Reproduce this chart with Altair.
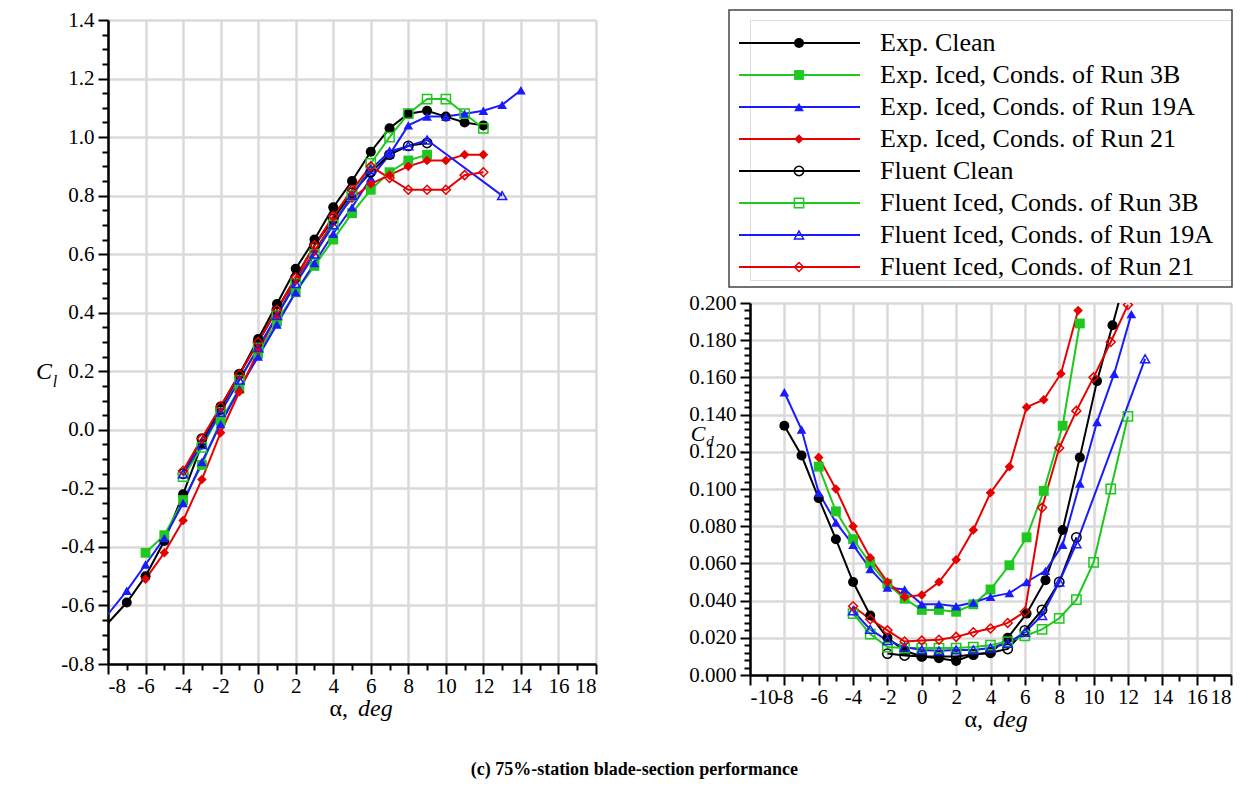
import altair as alt
import pandas as pd

FONT = "Liberation Serif"

SERIES = [
    "Exp. Clean",
    "Exp. Iced, Conds. of Run 3B",
    "Exp. Iced, Conds. of Run 19A",
    "Exp. Iced, Conds. of Run 21",
    "Fluent Clean",
    "Fluent Iced, Conds. of Run 3B",
    "Fluent Iced, Conds. of Run 19A",
    "Fluent Iced, Conds. of Run 21",
]
COLORS = ["#000000", "#1ec81e", "#1a1aff", "#e60000"] * 2
SHAPES = ["circle", "square", "triangle-up", "diamond"] * 2
SIZES = [100, 80, 140, 230, 100, 70, 100, 130]

# ---------------- Lift coefficient (left panel) ----------------
cl_exp_clean_a = [-8, -7, -6, -5, -4, -3, -2, -1, 0, 1, 2, 3, 4, 5, 6, 7, 8, 9, 10, 11, 12]
cl_exp_clean = [-0.66, -0.59, -0.50, -0.38, -0.22, -0.05, 0.08, 0.19, 0.31, 0.43, 0.55,
                0.65, 0.76, 0.85, 0.95, 1.03, 1.08, 1.09, 1.07, 1.05, 1.04]
cl_exp_3b_a = [-6, -5, -4, -3, -2, -1, 0, 1, 2, 3, 4, 5, 6, 7, 8, 9]
cl_exp_3b = [-0.42, -0.36, -0.24, -0.12, 0.03, 0.14, 0.26, 0.37, 0.47, 0.56, 0.65, 0.74,
             0.82, 0.88, 0.92, 0.94]
cl_exp_19a_a = [-8, -7, -6, -5, -4, -3, -2, -1, 0, 1, 2, 3, 4, 5, 6, 7, 8, 9, 10, 11, 12, 13, 14]
cl_exp_19a = [-0.63, -0.55, -0.46, -0.37, -0.25, -0.11, 0.02, 0.14, 0.25, 0.36, 0.47, 0.57,
              0.67, 0.76, 0.86, 0.94, 1.04, 1.07, 1.07, 1.08, 1.09, 1.11, 1.16]
cl_exp_21_a = [-6, -5, -4, -3, -2, -1, 0, 1, 2, 3, 4, 5, 6, 7, 8, 9, 10, 11, 12]
cl_exp_21 = [-0.51, -0.42, -0.31, -0.17, -0.01, 0.13, 0.27, 0.39, 0.51, 0.61, 0.71, 0.79,
             0.84, 0.87, 0.90, 0.92, 0.92, 0.94, 0.94]
cl_fl_clean_a = [-4, -3, -2, -1, 0, 1, 2, 3, 4, 5, 6, 7, 8, 9]
cl_fl_clean = [-0.15, -0.03, 0.07, 0.19, 0.30, 0.41, 0.52, 0.63, 0.72, 0.81, 0.88, 0.94, 0.97, 0.98]
cl_fl_3b_a = [-4, -3, -2, -1, 0, 1, 2, 3, 4, 5, 6, 7, 8, 9, 10, 11, 12]
cl_fl_3b = [-0.16, -0.06, 0.06, 0.17, 0.28, 0.39, 0.50, 0.60, 0.70, 0.80, 0.91, 1.00, 1.08,
            1.13, 1.13, 1.08, 1.03]
cl_fl_19a_a = [-4, -3, -2, -1, 0, 1, 2, 3, 4, 5, 6, 7, 8, 9, 13]
cl_fl_19a = [-0.15, -0.05, 0.06, 0.17, 0.28, 0.39, 0.50, 0.60, 0.70, 0.80, 0.89, 0.95, 0.97,
             0.99, 0.80]
cl_fl_21_a = [-4, -3, -2, -1, 0, 1, 2, 3, 4, 5, 6, 7, 8, 9, 10, 11, 12]
cl_fl_21 = [-0.14, -0.03, 0.08, 0.19, 0.30, 0.41, 0.52, 0.63, 0.73, 0.82, 0.90, 0.86, 0.82,
            0.82, 0.82, 0.87, 0.88]

# ---------------- Drag coefficient (right panel) ----------------
cd_exp_clean_a = [-8, -7, -6, -5, -4, -3, -2, -1, 0, 1, 2, 3, 4, 5, 6.1, 7.2, 8.2, 9.2, 10.2, 11.1, 12.1]
cd_exp_clean = [0.134, 0.118, 0.095, 0.073, 0.050, 0.032, 0.020, 0.013, 0.010, 0.009, 0.0075,
                0.011, 0.012, 0.020, 0.033, 0.051, 0.078, 0.117, 0.158, 0.188, 0.222]
cd_exp_3b_a = [-6, -5, -4, -3, -2, -1, 0, 1, 2, 3, 4, 5.1, 6.1, 7.1, 8.2, 9.2]
cd_exp_3b = [0.112, 0.088, 0.073, 0.060, 0.049, 0.041, 0.035, 0.035, 0.034, 0.038, 0.046,
             0.059, 0.074, 0.099, 0.134, 0.189]
cd_exp_19a_a = [-8, -7, -6, -5, -4, -3, -2, -1, 0, 1, 2, 3, 4, 5.1, 6.1, 7.2, 8.2, 9.2, 10.2, 11.2, 12.2]
cd_exp_19a = [0.152, 0.132, 0.098, 0.082, 0.070, 0.057, 0.047, 0.046, 0.038, 0.038, 0.037,
              0.039, 0.042, 0.044, 0.050, 0.056, 0.070, 0.103, 0.136, 0.162, 0.194]
cd_exp_21_a = [-6, -5, -4, -3, -2, -1, 0, 1, 2, 3, 4, 5.1, 6.1, 7.1, 8.1, 9.1]
cd_exp_21 = [0.117, 0.100, 0.080, 0.063, 0.050, 0.042, 0.043, 0.050, 0.062, 0.078, 0.098,
             0.112, 0.144, 0.148, 0.162, 0.196]
cd_fl_clean_a = [-2, -1, 0, 1, 2, 3, 4, 5, 6, 7, 8, 9]
cd_fl_clean = [0.0115, 0.0105, 0.010, 0.010, 0.010, 0.011, 0.012, 0.014, 0.024, 0.035, 0.050, 0.074]
cd_fl_3b_a = [-4, -3, -2, -1, 0, 1, 2, 3, 4, 5, 6, 7, 8, 9, 10, 11, 12]
cd_fl_3b = [0.033, 0.022, 0.015, 0.0145, 0.0145, 0.0145, 0.0145, 0.015, 0.016, 0.018, 0.021,
            0.0245, 0.0305, 0.0405, 0.0605, 0.100, 0.139]
cd_fl_19a_a = [-4, -3, -2, -1, 0, 1, 2, 3, 4, 5, 6, 7, 8, 9, 13]
cd_fl_19a = [0.0345, 0.0245, 0.0185, 0.015, 0.0135, 0.013, 0.0135, 0.0135, 0.0145, 0.017,
             0.023, 0.032, 0.050, 0.0706, 0.170]
cd_fl_21_a = [-4, -3, -2, -1, 0, 1, 2, 3, 4, 5, 6, 7, 8, 9, 10, 11, 12]
cd_fl_21 = [0.037, 0.030, 0.024, 0.018, 0.0185, 0.019, 0.0205, 0.023, 0.025, 0.028, 0.034,
            0.090, 0.122, 0.142, 0.160, 0.179, 0.199]

CL_A = [cl_exp_clean_a, cl_exp_3b_a, cl_exp_19a_a, cl_exp_21_a, cl_fl_clean_a, cl_fl_3b_a, cl_fl_19a_a, cl_fl_21_a]
CL_V = [cl_exp_clean, cl_exp_3b, cl_exp_19a, cl_exp_21, cl_fl_clean, cl_fl_3b, cl_fl_19a, cl_fl_21]
CD_A = [cd_exp_clean_a, cd_exp_3b_a, cd_exp_19a_a, cd_exp_21_a, cd_fl_clean_a, cd_fl_3b_a, cd_fl_19a_a, cd_fl_21_a]
CD_V = [cd_exp_clean, cd_exp_3b, cd_exp_19a, cd_exp_21, cd_fl_clean, cd_fl_3b, cd_fl_19a, cd_fl_21]


def build_df(alist, vlist):
    rows = []
    for name, aa, vv in zip(SERIES, alist, vlist):
        for a, v in zip(aa, vv):
            rows.append({"series": name, "alpha": a, "val": v, "exp": name.startswith("Exp")})
    return pd.DataFrame(rows)


df_cl = build_df(CL_A, CL_V)
df_cd = build_df(CD_A, CD_V)

color_enc = alt.Color("series:N", scale=alt.Scale(domain=SERIES, range=COLORS), legend=None)
shape_enc = alt.Shape("series:N", scale=alt.Scale(domain=SERIES, range=SHAPES), legend=None)
size_enc = alt.Size("series:N", scale=alt.Scale(domain=SERIES, range=SIZES), legend=None)

MINUS = "\u2212"
LABEL_SIZE = 21


def axis_common(pad):
    return dict(
        domainColor="black", domainWidth=2.5, tickColor="black", tickWidth=2,
        labelFont=FONT, labelFontSize=LABEL_SIZE, labelColor="black", labelPadding=pad,
        labelOverlap=False,
        gridColor="#dadada", gridWidth=2.5, title=None,
    )


def x_axis(lo, hi):
    major = "datum.value % 2 == 0"
    return alt.Axis(
        values=list(range(lo, hi + 1)),
        labelExpr=f"({major}) ? replace(datum.label, '{MINUS}', '-') : ''",
        tickSize={"condition": {"test": major, "value": 10}, "value": 6},
        gridOpacity={"condition": {"test": major, "value": 1}, "value": 0},
        **axis_common(1),
    )


def y_axis(values, mult, fmt):
    major = f"abs(datum.value*{mult} - round(datum.value*{mult})) < 0.000001"
    return alt.Axis(
        values=values, format=fmt,
        labelExpr=f"({major}) ? replace(datum.label, '{MINUS}', '-') : ''",
        tickSize={"condition": {"test": major, "value": 10}, "value": 6},
        gridOpacity={"condition": {"test": major, "value": 1}, "value": 0},
        **axis_common(4),
    )


def text_layer(txt, x, y, size, style="italic", align="center"):
    return alt.Chart(pd.DataFrame({"t": [txt]})).mark_text(
        font=FONT, fontSize=size, fontStyle=style, align=align, baseline="middle", color="black"
    ).encode(text="t:N", x=alt.value(x), y=alt.value(y))


def panel(df, xdom, ydom, xax, yax, w, h, min_marker_alpha):
    base = alt.Chart(df)
    x = alt.X("alpha:Q", scale=alt.Scale(domain=xdom, nice=False, zero=False), axis=xax)
    y = alt.Y("val:Q", scale=alt.Scale(domain=ydom, nice=False, zero=False), axis=yax)
    lines = base.mark_line(strokeWidth=2, clip=True).encode(x=x, y=y, color=color_enc, detail="series:N")
    pts_exp = base.transform_filter(f"datum.exp && datum.alpha > {min_marker_alpha}").mark_point(
        filled=True, opacity=1, clip=True
    ).encode(x=x, y=y, color=color_enc, shape=shape_enc, size=size_enc)
    pts_fl = base.transform_filter("!datum.exp").mark_point(
        filled=False, opacity=1, strokeWidth=1.5, clip=True
    ).encode(x=x, y=y, color=color_enc, shape=shape_enc, size=size_enc)
    return alt.layer(lines, pts_exp, pts_fl).properties(width=w, height=h)


LW, LH = 488, 644
RW, RH = 481, 372

cl_ticks = [round(-0.8 + 0.05 * i, 2) for i in range(45)]
cd_ticks = [round(0.004 * i, 3) for i in range(51)]

left = alt.layer(
    panel(df_cl, [-8, 18], [-0.8, 1.4], x_axis(-8, 18), y_axis(cl_ticks, 5, ".1f"), LW, LH, -8),
    text_layer("C", -64, 352, 24),
    text_layer("l", -53, 362, 16),
    text_layer("α,", 240, 689, 24, style="normal", align="right"),
    text_layer("deg", 250, 689, 24, style="italic", align="left"),
).properties(width=LW, height=LH)

right = alt.layer(
    panel(df_cd, [-10, 18], [0, 0.2], x_axis(-10, 18), y_axis(cd_ticks, 50, ".3f"), RW, RH, -99),
    text_layer("C", -52, 131, 22),
    text_layer("d", -40, 138, 15),
    text_layer("α,", 233, 417, 24, style="normal", align="right"),
    text_layer("deg", 243, 417, 24, style="italic", align="left"),
).properties(width=RW, height=RH)

# ---------------- custom legend ----------------
leg_df = pd.DataFrame({"series": SERIES, "row": list(range(8)), "exp": [True] * 4 + [False] * 4})
ly = alt.Y("row:Q", scale=alt.Scale(domain=[0, 7], range=[23, 247]), axis=None)
leg_base = alt.Chart(leg_df)
box = alt.Chart(pd.DataFrame({"a": [0]})).mark_rect(
    fill="transparent", stroke="#444444", strokeWidth=1.5
).encode(x=alt.value(-21), x2=alt.value(482), y=alt.value(-10), y2=alt.value(267))
leg_lines = leg_base.mark_rule(strokeWidth=2).encode(
    x=alt.value(-11), x2=alt.value(110), y=ly, color=color_enc)
leg_pe = leg_base.transform_filter("datum.exp").mark_point(filled=True, opacity=1).encode(
    x=alt.value(49), y=ly, color=color_enc, shape=shape_enc, size=size_enc)
leg_pf = leg_base.transform_filter("!datum.exp").mark_point(filled=False, opacity=1, strokeWidth=1.5).encode(
    x=alt.value(49), y=ly, color=color_enc, shape=shape_enc, size=size_enc)
leg_text = leg_base.mark_text(font=FONT, fontSize=26, align="left", baseline="middle", color="black").encode(
    x=alt.value(130), y=ly, text="series:N")
legend = alt.layer(box, leg_lines, leg_pe, leg_pf, leg_text).properties(width=RW, height=260)

right_col = alt.vconcat(legend, right, spacing=2).resolve_scale(y="independent", x="independent")

chart = alt.hconcat(left, right_col, spacing=90).resolve_scale(
    x="independent", y="independent"
).properties(
    title=alt.TitleParams(
        "(c)  75%-station blade-section performance", orient="bottom", anchor="middle",
        font=FONT, fontSize=18, fontWeight="bold", color="black", offset=28,
    ),
    padding={"left": 27, "top": 0, "right": 0, "bottom": 0},
).configure_view(stroke=None).configure(background="white")

chart.save("out.html", embed_options={"renderer": "svg", "actions": False})
